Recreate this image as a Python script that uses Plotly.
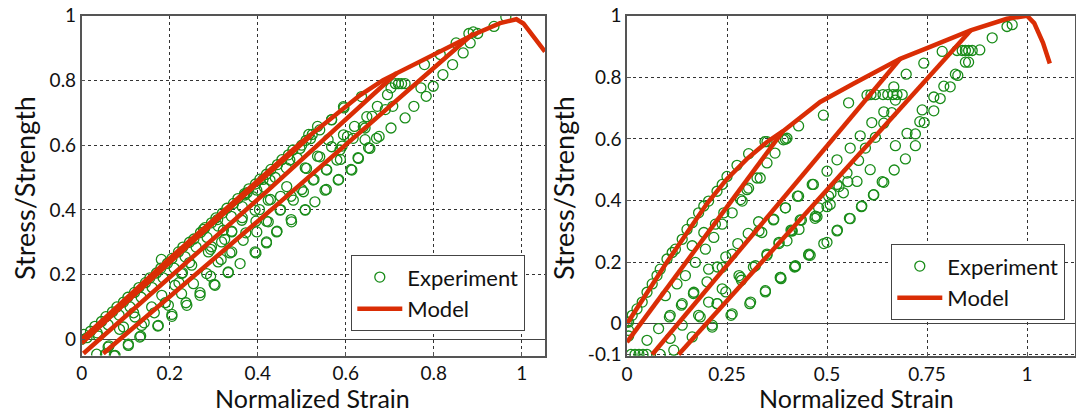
import plotly.graph_objects as go

# ---------------- LEFT PANEL DATA ----------------
# Model: envelope + reloading lines
envL_x = [0, 0.1, 0.2, 0.3, 0.4, 0.45, 0.5, 0.542, 0.572, 0.633, 0.685, 0.75, 0.799, 0.85, 0.89, 0.951, 0.988, 1.004, 1.026, 1.053]
envL_y = [0, 0.125, 0.25, 0.37, 0.49, 0.552, 0.61, 0.655, 0.688, 0.755, 0.801, 0.845, 0.879, 0.912, 0.941, 0.977, 0.989, 0.976, 0.935, 0.889]
relL1_x = [0.0, 0.25, 0.52]
relL1_y = [-0.012, 0.30, 0.628]
relL2_x = [0.004, 0.424, 0.716]
relL2_y = [-0.044, 0.461, 0.823]
relL3_x = [0.049, 0.439, 0.89]
relL3_y = [-0.044, 0.41, 0.945]

# Experiment points (left)
expL_x = [
    0.0, 0.005, 0.012, 0.02, 0.03, 0.035, 0.045, 0.055, 0.06, 0.07, 0.08, 0.085, 0.095, 0.105, 0.11,
    0.12, 0.13, 0.135, 0.145, 0.155, 0.16, 0.17, 0.18, 0.185, 0.195, 0.205, 0.21, 0.22, 0.23, 0.235,
    0.245, 0.255, 0.26, 0.27, 0.28, 0.285, 0.295, 0.305, 0.31, 0.32, 0.33, 0.34, 0.345, 0.355, 0.365,
    0.37, 0.38, 0.39, 0.395, 0.405, 0.415, 0.42, 0.43, 0.44, 0.445, 0.455, 0.465, 0.47, 0.48, 0.49,
    0.5, 0.51, 0.516, 0.524, 0.52,
    0.964, 0.937, 0.89, 0.88, 0.90, 0.883, 0.851, 0.867, 0.843, 0.821, 0.815, 0.779, 0.799, 0.783,
    0.771, 0.755, 0.735, 0.72, 0.727, 0.735, 0.713, 0.703, 0.695, 0.707, 0.69, 0.703, 0.672, 0.676,
    0.66, 0.644, 0.644, 0.652, 0.628, 0.612, 0.62, 0.604, 0.592, 0.588, 0.584, 0.596, 0.568, 0.56,
    0.556, 0.556, 0.536, 0.528, 0.508, 0.536, 0.508, 0.5, 0.476, 0.476, 0.452, 0.444, 0.452, 0.42,
    0.396, 0.42, 0.429, 0.412, 0.396, 0.404, 0.373, 0.365, 0.376, 0.337, 0.333, 0.341, 0.317, 0.325,
    0.309, 0.293, 0.301, 0.269, 0.293, 0.277, 0.237, 0.245, 0.229, 0.205, 0.221, 0.19, 0.181, 0.173,
    0.165, 0.142, 0.134, 0.118, 0.106, 0.086, 0.074, 0.054, 0.034, 0.038, 0.062,
    0.076, 0.06, 0.106, 0.132, 0.095, 0.136, 0.174, 0.121, 0.205, 0.159, 0.197, 0.239, 0.182, 0.227,
    0.269, 0.212, 0.254, 0.303, 0.227, 0.284, 0.333, 0.25, 0.31, 0.36, 0.288, 0.341, 0.394, 0.318,
    0.367, 0.42, 0.341, 0.398, 0.364, 0.424, 0.394, 0.424,
    0.443, 0.477, 0.508, 0.53, 0.553, 0.583, 0.614, 0.629, 0.655, 0.67, 0.451, 0.481, 0.504, 0.526,
    0.557, 0.58, 0.587, 0.617, 0.64, 0.648, 0.466, 0.511, 0.541, 0.568, 0.595, 0.636, 0.595, 0.568,
    0.541, 0.496, 0.473, 0.428, 0.398, 0.371, 0.322, 0.295,
]
expL_y = [
    0.0, 0.015, 0.005, 0.025, 0.04, 0.02, 0.055, 0.07, 0.045, 0.085, 0.1, 0.075, 0.115, 0.13, 0.1,
    0.145, 0.16, 0.13, 0.175, 0.19, 0.16, 0.205, 0.22, 0.19, 0.235, 0.25, 0.22, 0.27, 0.285, 0.255,
    0.3, 0.31, 0.285, 0.33, 0.345, 0.315, 0.36, 0.375, 0.35, 0.39, 0.405, 0.38, 0.42, 0.435, 0.41,
    0.45, 0.465, 0.44, 0.48, 0.495, 0.47, 0.51, 0.525, 0.5, 0.54, 0.555, 0.53, 0.57, 0.585, 0.56,
    0.6, 0.615, 0.633, 0.633, 0.62,
    0.996, 0.967, 0.95, 0.945, 0.945, 0.916, 0.916, 0.885, 0.849, 0.818, 0.88, 0.849, 0.782, 0.751,
    0.777, 0.72, 0.684, 0.79, 0.79, 0.79, 0.79, 0.777, 0.756, 0.72, 0.71, 0.653, 0.72, 0.627,
    0.689, 0.653, 0.617, 0.592, 0.561, 0.525, 0.658, 0.627, 0.597, 0.556, 0.494, 0.715, 0.679, 0.617,
    0.525, 0.463, 0.566, 0.494, 0.401, 0.658, 0.53, 0.463, 0.442, 0.37, 0.442, 0.334, 0.401, 0.298,
    0.365, 0.365, 0.432, 0.494, 0.267, 0.401, 0.329, 0.376, 0.453, 0.267, 0.206, 0.334, 0.247, 0.309,
    0.37, 0.195, 0.17, 0.144, 0.278, 0.34, 0.113, 0.237, 0.206, 0.077, 0.175, 0.113, 0.247, 0.041,
    0.082, 0.051, 0.01, 0.082, -0.015, 0.031, -0.051, -0.046, -0.046, 0.01, -0.02,
    -0.05, -0.024, -0.019, 0.007, 0.038, 0.043, 0.043, 0.069, 0.071, 0.1, 0.105, 0.105, 0.136, 0.141,
    0.136, 0.167, 0.172, 0.167, 0.203, 0.203, 0.208, 0.229, 0.239, 0.234, 0.27, 0.27, 0.27, 0.301,
    0.306, 0.301, 0.332, 0.332, 0.368, 0.363, 0.399, 0.43,
    0.332, 0.363, 0.399, 0.425, 0.461, 0.492, 0.523, 0.559, 0.59, 0.621, 0.399, 0.43, 0.456, 0.492,
    0.523, 0.554, 0.585, 0.621, 0.657, 0.688, 0.472, 0.528, 0.564, 0.595, 0.632, 0.75, 0.719, 0.678,
    0.647, 0.59, 0.554, 0.492, 0.461, 0.446, 0.337, 0.286,
]

# ---------------- RIGHT PANEL DATA ----------------
envR_x = [0, 0.1, 0.2, 0.25, 0.3, 0.35, 0.39, 0.425, 0.483, 0.567, 0.683, 0.75, 0.859, 0.95, 1.0, 1.018, 1.04, 1.057]
envR_y = [0, 0.2, 0.39, 0.47, 0.535, 0.59, 0.625, 0.66, 0.72, 0.78, 0.86, 0.895, 0.952, 0.99, 1.0, 0.976, 0.912, 0.845]
relR1_x = [0.0, 0.39]
relR1_y = [-0.06, 0.625]
relR2_x = [0.063, 0.683]
relR2_y = [-0.1, 0.86]
relR3_x = [0.129, 0.859]
relR3_y = [-0.1, 0.952]

expR_x = [
    0.01, 0.02, 0.03, 0.04, 0.05, 0.083, 0.0, 0.004, 0.004, 0.05, 0.079, 0.108, 0.117, 0.108, 0.138,
    0.163, 0.179, 0.204, 0.213, 0.225, 0.263, 0.238, 0.284, 0.309, 0.346, 0.321, 0.384, 0.421, 0.35,
    0.38, 0.4, 0.413, 0.43, 0.455, 0.471, 0.396, 0.367, 0.426, 0.463, 0.33, 0.263, 0.28, 0.238, 0.167,
    0.138, 0.204, 0.171, 0.125, 0.096, 0.146, 0.163, 0.196, 0.217, 0.238, 0.263, 0.284, 0.3, 0.325,
    0.192, 0.221, 0.242, 0.288,
    0.004, 0.013, 0.025, 0.038, 0.05, 0.063, 0.075, 0.083, 0.1, 0.113, 0.121, 0.138, 0.15, 0.163,
    0.179, 0.192, 0.204, 0.225, 0.238, 0.25, 0.275, 0.304, 0.35, 0.37, 0.391, 0.4, 0.35, 0.304,
    0.345, 0.333, 0.396, 0.429, 0.491, 0.554, 0.6,
    0.61, 0.621, 0.64, 0.652, 0.665, 0.675, 0.688, 0.667, 0.671, 0.642, 0.662, 0.612, 0.642, 0.583,
    0.621, 0.558, 0.596, 0.525, 0.579, 0.5, 0.55, 0.608, 0.466, 0.525, 0.575, 0.642, 0.429, 0.504,
    0.541, 0.617, 0.396, 0.479, 0.508, 0.587, 0.366, 0.433, 0.475, 0.558, 0.337, 0.412, 0.525, 0.454,
    0.5, 0.421, 0.383,
    0.698, 0.671, 0.696, 0.721, 0.7, 0.721, 0.732, 0.743, 0.738, 0.767, 0.767, 0.783, 0.792, 0.808,
    0.821, 0.827, 0.846, 0.854, 0.825, 0.838, 0.846, 0.854, 0.863, 0.788, 0.742, 0.882, 0.913, 0.95,
    0.963,
    0.26, 0.307, 0.346, 0.385, 0.419, 0.458, 0.492, 0.526, 0.556, 0.586, 0.616, 0.638, 0.668,
    0.213, 0.183, 0.226, 0.247, 0.286, 0.316, 0.35, 0.38, 0.41, 0.436, 0.47, 0.5, 0.51, 0.53, 0.552,
    0.106, 0.136, 0.166, 0.2, 0.226, 0.247, 0.277, 0.303, 0.329,
]
expR_y = [
    -0.1, -0.1, -0.1, -0.1, -0.1, -0.1, 0.005, -0.022, -0.04, -0.054, -0.016, -0.048, -0.086, 0.027, -0.005,
    -0.043, 0.027, 0.07, -0.005, 0.065, 0.032, 0.113, 0.15, 0.07, 0.107, 0.188, 0.15, 0.188, 0.226,
    0.264, 0.269, 0.301, 0.306, 0.226, 0.349, 0.376, 0.339, 0.414, 0.452, 0.301, 0.226, 0.156, 0.183, 0.102,
    0.065, 0.177, 0.199, 0.129, 0.091, 0.156, 0.253, 0.242, 0.28, 0.323, 0.36, 0.403, 0.435, 0.473,
    0.296, 0.323, 0.36, 0.398,
    0.005, 0.027, 0.048, 0.07, 0.102, 0.129, 0.156, 0.177, 0.21, 0.231, 0.242, 0.274, 0.306, 0.328,
    0.36, 0.382, 0.398, 0.43, 0.452, 0.478, 0.514, 0.552, 0.591, 0.554, 0.597, 0.602, 0.522, 0.44,
    0.591, 0.473, 0.599, 0.642, 0.677, 0.717, 0.742,
    0.744, 0.744, 0.744, 0.744, 0.744, 0.744, 0.744, 0.769, 0.726, 0.688, 0.685, 0.653, 0.651, 0.61,
    0.605, 0.57, 0.57, 0.532, 0.53, 0.495, 0.489, 0.5, 0.452, 0.452, 0.462, 0.459, 0.414, 0.414,
    0.425, 0.419, 0.376, 0.376, 0.387, 0.382, 0.337, 0.337, 0.347, 0.341, 0.296, 0.301, 0.301, 0.223,
    0.264, 0.186, 0.15,
    0.81, 0.578, 0.535, 0.578, 0.618, 0.616, 0.656, 0.653, 0.694, 0.691, 0.736, 0.731, 0.771, 0.769,
    0.81, 0.806, 0.849, 0.849, 0.887, 0.887, 0.887, 0.887, 0.887, 0.884, 0.846, 0.889, 0.928, 0.965,
    0.971,
    0.027, 0.065, 0.103, 0.146, 0.184, 0.222, 0.26, 0.304, 0.342, 0.38, 0.418, 0.461, 0.499,
    -0.011, 0.022, 0.065, 0.103, 0.141, 0.184, 0.222, 0.26, 0.304, 0.336, 0.342, 0.38, 0.423, 0.445, 0.461,
    0.022, 0.06, 0.098, 0.136, 0.184, 0.217, 0.26, 0.293, 0.331,
]

legend_labels = ["Experiment", "Model"]
xticks_L = [0, 0.2, 0.4, 0.6, 0.8, 1]
yticks_L = [0, 0.2, 0.4, 0.6, 0.8, 1]
xticks_R = [0, 0.25, 0.5, 0.75, 1]
yticks_R = [-0.1, 0, 0.2, 0.4, 0.6, 0.8, 1]

GREEN = "rgb(25,140,25)"
RED = "rgb(218,45,5)"
FONT = "Lato"


def join(*pairs):
    xs, ys = [], []
    for px, py in pairs:
        if xs:
            xs.append(None)
            ys.append(None)
        xs.extend(px)
        ys.extend(py)
    return xs, ys


mLx, mLy = join((envL_x, envL_y), (relL1_x, relL1_y), (relL2_x, relL2_y), (relL3_x, relL3_y))
mRx, mRy = join((envR_x, envR_y), (relR1_x, relR1_y), (relR2_x, relR2_y), (relR3_x, relR3_y))

fig = go.Figure()
marker = dict(symbol="circle-open", size=10, color=GREEN, line=dict(width=1.3, color=GREEN))
fig.add_trace(go.Scatter(x=expL_x, y=expL_y, mode="markers", marker=marker, name=legend_labels[0],
                         xaxis="x", yaxis="y", legend="legend"))
fig.add_trace(go.Scatter(x=mLx, y=mLy, mode="lines", line=dict(color=RED, width=4.5), name=legend_labels[1],
                         xaxis="x", yaxis="y", legend="legend", connectgaps=False))
fig.add_trace(go.Scatter(x=expR_x, y=expR_y, mode="markers", marker=marker, name=legend_labels[0],
                         xaxis="x2", yaxis="y2", legend="legend2"))
fig.add_trace(go.Scatter(x=mRx, y=mRy, mode="lines", line=dict(color=RED, width=4.5), name=legend_labels[1],
                         xaxis="x2", yaxis="y2", legend="legend2", connectgaps=False))

W, H = 1076, 414
axis_common = dict(showline=True, mirror=True, linecolor="#555", linewidth=1.5,
                   showgrid=True, gridcolor="#333", griddash="dot", gridwidth=1,
                   ticks="inside", ticklen=4, tickcolor="#555", automargin=False,
                   tickfont=dict(family=FONT, size=19, color="#111"))

fig.update_layout(
    width=W, height=H,
    autosize=False,
    margin=dict(l=0, r=0, t=0, b=0, pad=0, autoexpand=False),
    paper_bgcolor="white", plot_bgcolor="white",
    font=dict(family=FONT, color="#111"),
    xaxis=dict(domain=[81.7 / W, 545 / W], range=[0, 1.053], tickvals=xticks_L,
               zeroline=False, anchor="y", **axis_common),
    yaxis=dict(domain=[1 - 355.5 / H, 1 - 15.7 / H], range=[-0.05, 1], tickvals=yticks_L,
               zeroline=True, zerolinecolor="#444", zerolinewidth=1.3, anchor="x", **axis_common),
    xaxis2=dict(domain=[627 / W, 1075 / W], range=[0, 1.12], tickvals=xticks_R,
                zeroline=False, anchor="y2", **axis_common),
    yaxis2=dict(domain=[1 - 356 / H, 1 - 15.7 / H], range=[-0.105, 1], tickvals=yticks_R,
                ticktext=["-0.1", "0", "0.2", "0.4", "0.6", "0.8", "1"],
                zeroline=True, zerolinecolor="#444", zerolinewidth=1.3, anchor="x2", **axis_common),
    legend=dict(x=351 / W, y=1 - 255 / H, xanchor="left", yanchor="top",
                bgcolor="white", bordercolor="#444", borderwidth=1.3,
                font=dict(family=FONT, size=22, color="#111"), itemwidth=45,
                tracegroupgap=2),
    legend2=dict(x=891 / W, y=1 - 244 / H, xanchor="left", yanchor="top",
                 bgcolor="white", bordercolor="#444", borderwidth=1.3,
                 font=dict(family=FONT, size=22, color="#111"), itemwidth=45,
                 tracegroupgap=2),
    showlegend=True,
)

# Axis titles as annotations for precise placement
titles = [
    dict(text="Normalized Strain", x=312 / W, y=0.0, textangle=0, xa="center", ya="bottom", size=25),
    dict(text="Normalized Strain", x=856 / W, y=0.0, textangle=0, xa="center", ya="bottom", size=25),
    dict(text="Stress/Strength", x=24 / W, y=1 - 188 / H, textangle=-90, xa="center", ya="middle", size=27),
    dict(text="Stress/Strength", x=563 / W, y=1 - 188 / H, textangle=-90, xa="center", ya="middle", size=27),
]
for t in titles:
    fig.add_annotation(text=t["text"], x=t["x"], y=t["y"], xref="paper", yref="paper",
                       showarrow=False, textangle=t["textangle"], xanchor=t["xa"], yanchor=t["ya"],
                       borderpad=0, font=dict(family=FONT, size=t["size"], color="#111"))

fig.write_html("out.html", config={"displayModeBar": False},
               post_script="document.body.style.margin='0px';document.body.style.overflow='hidden';")
